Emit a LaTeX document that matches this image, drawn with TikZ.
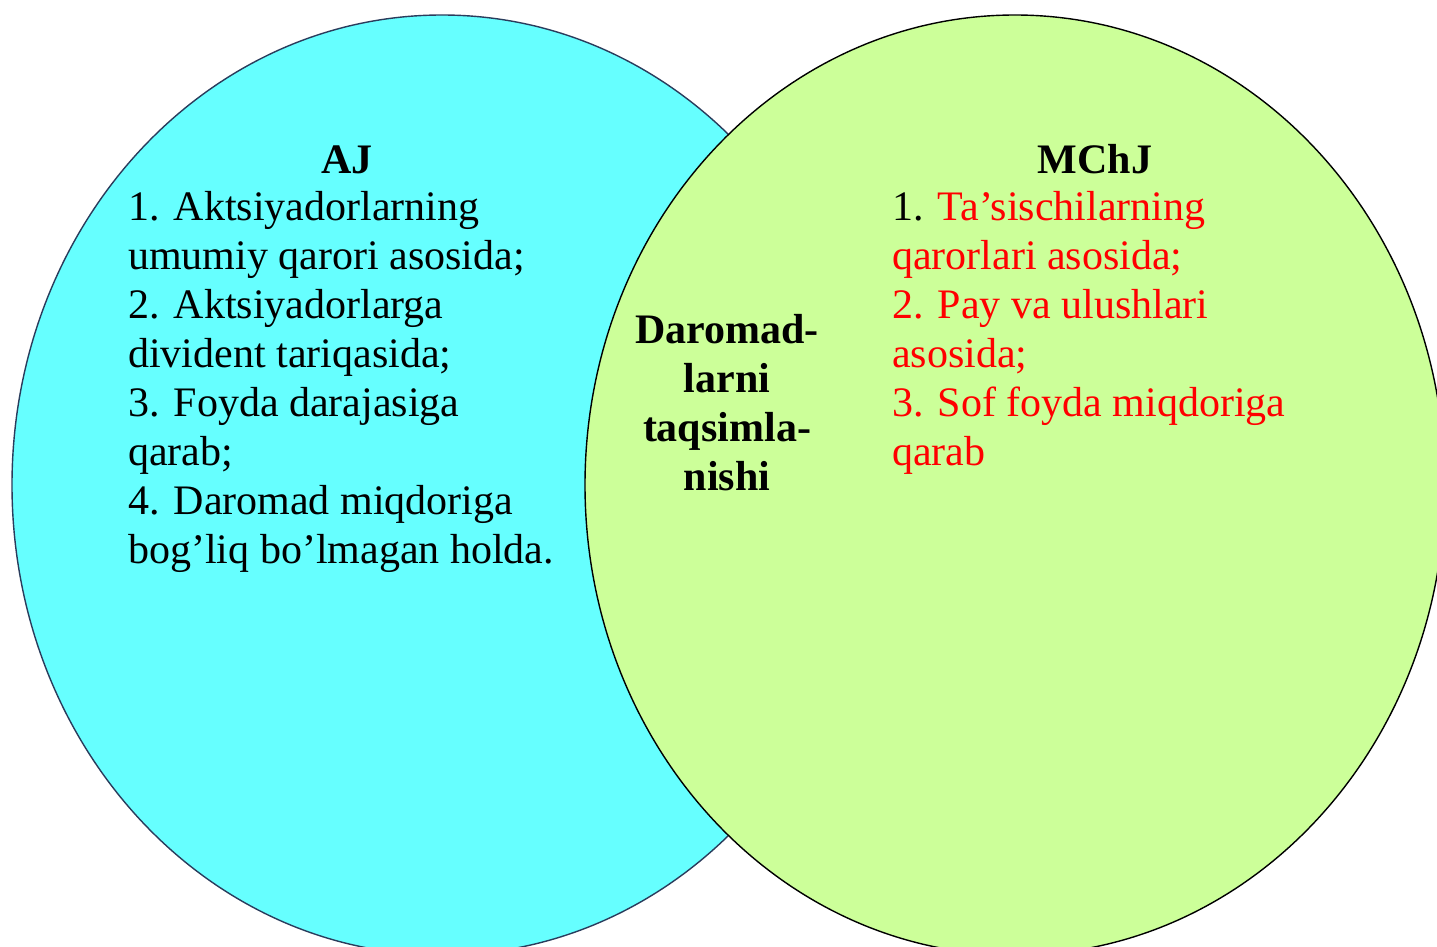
\documentclass[tikz,border=0pt]{standalone}
\usepackage{fontspec}
\setmainfont{Liberation Serif}
\definecolor{cyanfill}{HTML}{66FFFF}
\definecolor{greenfill}{HTML}{CCFF99}
\definecolor{cyanline}{HTML}{2A3C5C}
\definecolor{redtext}{HTML}{FF0000}
\tikzset{
  txt/.style={font=\fontsize{42}{49}\selectfont, inner sep=0pt, anchor=base west},
  head/.style={font=\fontsize{42}{49}\selectfont\bfseries, inner sep=0pt, anchor=base},
  mid/.style={font=\fontsize{42}{49}\selectfont\bfseries, inner sep=0pt, anchor=base},
  circ/.style={line width=1.4pt}
}
\begin{document}
\begin{tikzpicture}[x=1pt,y=-1pt]
\useasboundingbox (0,0) rectangle (1437,947);
\clip (0,0) rectangle (1437,947);
\fill[white] (0,0) rectangle (1437,947);
\draw[circ, draw=cyanline, fill=cyanfill] (442,485) ellipse [x radius=430pt, y radius=470pt];
\draw[circ, draw=black, fill=greenfill] (1015,485) ellipse [x radius=430pt, y radius=470pt];
% left block
\node[head] (aj) at (347,173) {AJ};
\node[txt] (a1) at (128,220) {1. Aktsiyadorlarning};
\node[txt] (a2) at (128,269) {umumiy qarori asosida;};
\node[txt] (a3) at (128,318) {2. Aktsiyadorlarga};
\node[txt] (a4) at (128,367) {divident tariqasida;};
\node[txt] (a5) at (128,416) {3. Foyda darajasiga};
\node[txt] (a6) at (128,465) {qarab;};
\node[txt] (a7) at (128,514) {4. Daromad miqdoriga};
\node[txt] (a8) at (128,563) {bog’liq bo’lmagan holda.};
% right block
\node[head] (mchj) at (1095,173) {MChJ};
\node[txt] (m1) at (892,220) {1. \textcolor{redtext}{Ta’sischilarning}};
\node[txt, text=redtext] (m2) at (892,269) {qarorlari asosida;};
\node[txt, text=redtext] (m3) at (892,318) {2. Pay va ulushlari};
\node[txt, text=redtext] (m4) at (892,367) {asosida;};
\node[txt, text=redtext] (m5) at (892,416) {3. Sof foyda miqdoriga};
\node[txt, text=redtext] (m6) at (892,465) {qarab};
% middle
\node[mid] (c1) at (727,343) {Daromad-};
\node[mid] (c2) at (727,392) {larni};
\node[mid] (c3) at (727,441) {taqsimla-};
\node[mid] (c4) at (727,490) {nishi};
\end{tikzpicture}
\end{document}
